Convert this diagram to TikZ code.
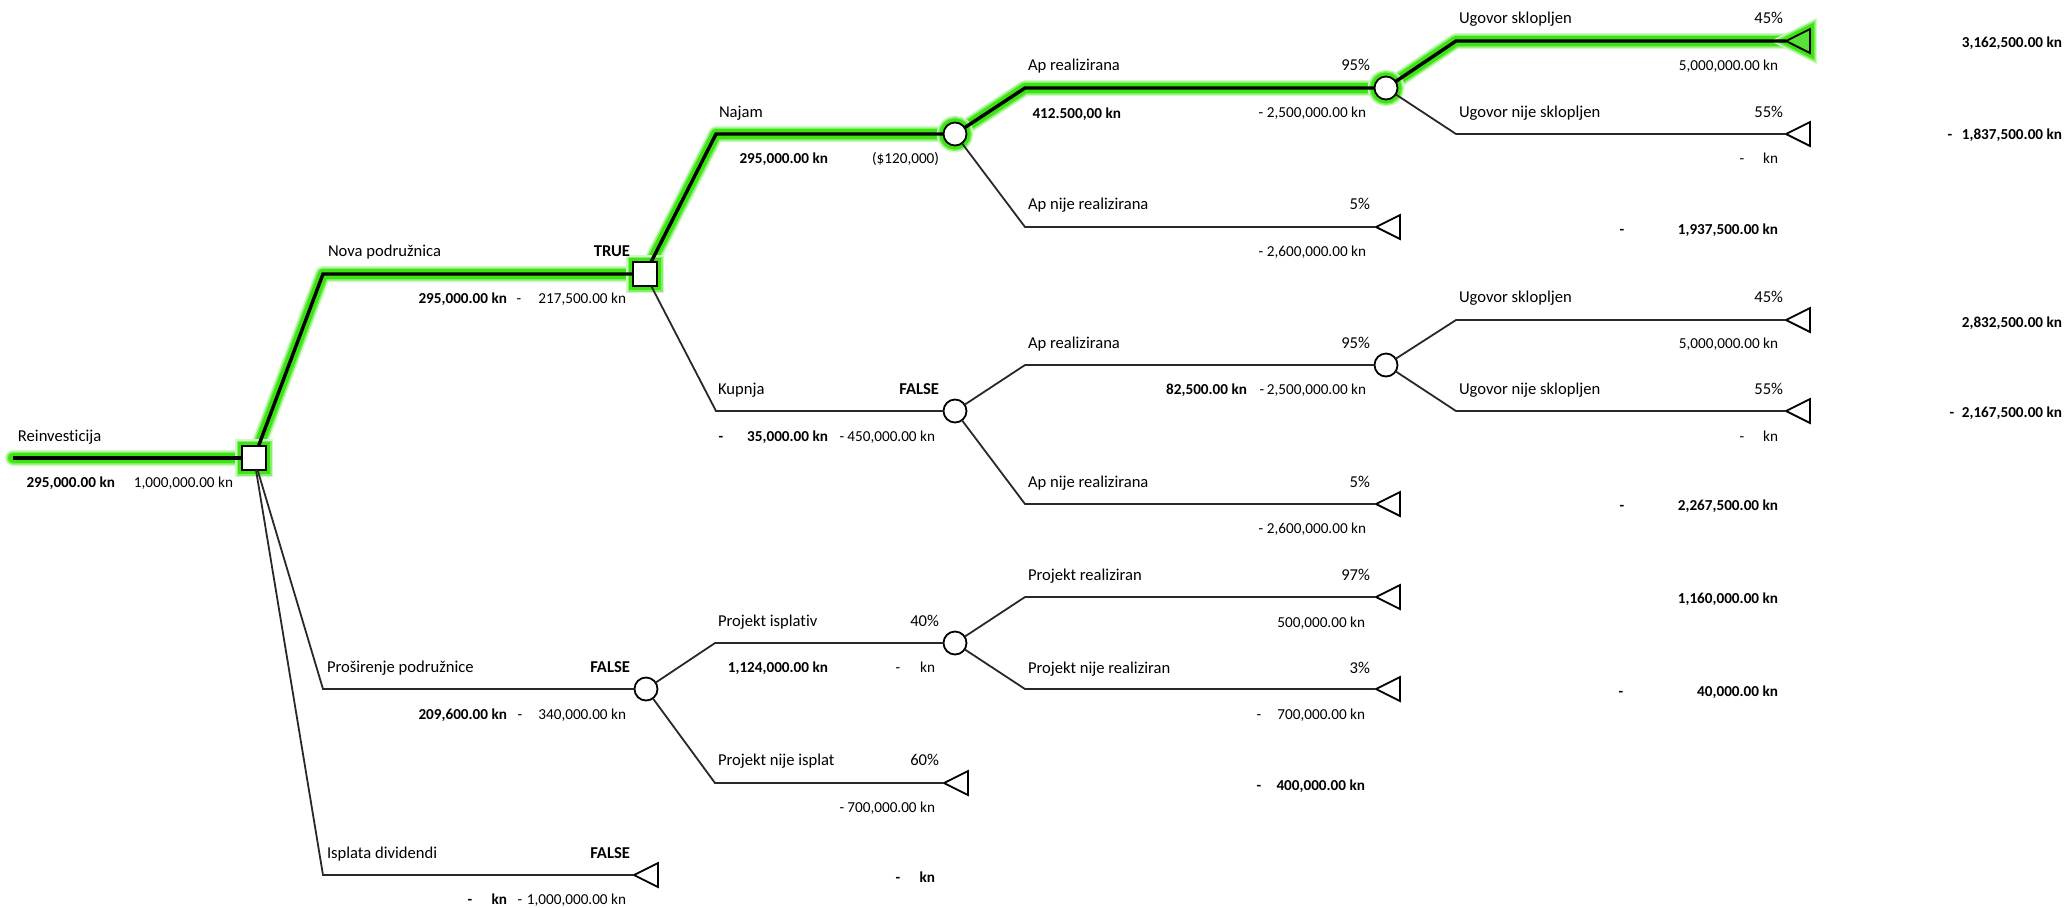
\documentclass[tikz,border=0pt]{standalone}
\usepackage{fontspec}
\setmainfont[Ligatures=NoCommon]{Carlito}
\usetikzlibrary{shapes.geometric}
\pgfdeclarelayer{bg}
\pgfsetlayers{bg,main}
\definecolor{glowA}{RGB}{205,250,195}
\definecolor{glowB}{RGB}{135,238,105}
\definecolor{glowC}{RGB}{60,228,20}
\definecolor{tfill}{RGB}{90,225,55}
\definecolor{lncol}{RGB}{40,40,40}
\begin{document}
\begin{tikzpicture}[x=0.5pt,y=-0.5pt,
  every node/.style={inner sep=0pt,outer sep=0pt},
  ln/.style={line width=0.9pt, lncol},
  hl/.style={line width=1.7pt, black},
  sq/.style={draw, line width=0.9pt, fill=white, rectangle, minimum size=12pt},
  ch/.style={draw, line width=0.9pt, fill=white, circle, minimum size=11.5pt},
  tm/.style={draw, line width=0.9pt, fill=white, isosceles triangle, isosceles triangle stretches, shape border rotate=180, minimum width=12pt, minimum height=12pt, anchor=apex},
  glw/.style={preaction={draw=glowA,line width=7pt},preaction={draw=glowB,line width=5.5pt},preaction={draw=glowC,line width=4pt}},
  lab/.style={anchor=base west, font=\fontsize{8.3}{10}\selectfont},
  pct/.style={anchor=base east, font=\fontsize{8.3}{10}\selectfont},
  flag/.style={anchor=base east, font=\fontsize{8.3}{10}\selectfont\bfseries},
  num/.style={anchor=base east, font=\fontsize{7.6}{9}\selectfont},
  bnum/.style={anchor=base east, font=\fontsize{7.6}{9}\selectfont\bfseries},
  dsh/.style={anchor=base, font=\fontsize{7.6}{9}\selectfont},
  bdsh/.style={anchor=base, font=\fontsize{7.6}{9}\selectfont\bfseries},
]
\useasboundingbox (0,0) rectangle (2065,907);

% ---------- nodes ----------
\coordinate (s0) at (13,458);
\node[sq,glw] (d1) at (254,458) {};
\coordinate (eNova) at (323,274);
\node[sq,glw] (d2) at (645,274) {};
\coordinate (eNajam) at (716,134);
\node[ch,glw] (c1) at (955,134) {};
\coordinate (eApr1) at (1025,88);
\node[ch,glw] (c2) at (1386,88) {};
\coordinate (eUg1) at (1456,41);
\node[tm,glw,fill=tfill] (t1) at (1786,41) {};
\coordinate (eUgn1) at (1456,134);
\node[tm] (t2) at (1786,134) {};
\coordinate (eApn1) at (1025,227);
\node[tm] (t3) at (1376,227) {};
\coordinate (eKup) at (716,411);
\node[ch] (c3) at (955,411) {};
\coordinate (eApr2) at (1025,365);
\node[ch] (c4) at (1386,365) {};
\coordinate (eUg2) at (1456,320);
\node[tm] (t4) at (1786,320) {};
\coordinate (eUgn2) at (1456,411);
\node[tm] (t5) at (1786,411) {};
\coordinate (eApn2) at (1025,504);
\node[tm] (t6) at (1376,504) {};
\coordinate (ePros) at (323,689);
\node[ch] (c5) at (646,689) {};
\coordinate (ePi) at (715,643);
\node[ch] (c6) at (955,643) {};
\coordinate (ePr) at (1025,597);
\node[tm] (t7) at (1376,597) {};
\coordinate (ePnr) at (1025,689);
\node[tm] (t8) at (1376,689) {};
\coordinate (ePni) at (715,783);
\node[tm] (t9) at (944,783) {};
\coordinate (eIsp) at (323,875);
\node[tm] (t10) at (634,875) {};

% ---------- glow of the chosen path ----------
\begin{pgfonlayer}{bg}
\foreach \gc/\gw in {glowA/8pt,glowB/6.5pt,glowC/5pt}{
  \draw[\gc, line width=\gw, line cap=round, line join=round]
    (s0) -- (d1.center) -- (eNova) -- (d2.center) -- (eNajam) -- (c1.center)
    -- (eApr1) -- (c2.center) -- (eUg1) -- (t1.apex);
}
\end{pgfonlayer}

% ---------- connectors ----------
\draw[hl] (s0) -- (d1);
\draw[hl] (d1) -- (eNova) -- (d2);
\draw[hl] (d2) -- (eNajam) -- (c1);
\draw[hl] (c1) -- (eApr1) -- (c2);
\draw[hl] (c2) -- (eUg1) -- (t1.apex);
\draw[ln] (c2) -- (eUgn1) -- (t2.apex);
\draw[ln] (c1) -- (eApn1) -- (t3.apex);
\draw[ln] (d2) -- (eKup) -- (c3);
\draw[ln] (c3) -- (eApr2) -- (c4);
\draw[ln] (c4) -- (eUg2) -- (t4.apex);
\draw[ln] (c4) -- (eUgn2) -- (t5.apex);
\draw[ln] (c3) -- (eApn2) -- (t6.apex);
\draw[ln] (d1) -- (ePros) -- (c5);
\draw[ln] (c5) -- (ePi) -- (c6);
\draw[ln] (c6) -- (ePr) -- (t7.apex);
\draw[ln] (c6) -- (ePnr) -- (t8.apex);
\draw[ln] (c5) -- (ePni) -- (t9.apex);
\draw[ln] (d1) -- (eIsp) -- (t10.apex);

% ---------- texts ----------
\node[lab] (tRein) at (18,441) {Reinvesticija};
\node[bnum] (vRein) at (115,487) {295,000.00 kn};
\node[num] (cRein) at (233,487) {1,000,000.00 kn};

\node[lab] (tNova) at (328,256) {Nova podružnica};
\node[flag] (bNova) at (630,256) {TRUE};
\node[bnum] (vNova) at (507,303) {295,000.00 kn};
\node[dsh] (mNova) at (519,303) {-};
\node[num] (cNova) at (626,303) {217,500.00 kn};

\node[lab] (tNajam) at (719,117) {Najam};
\node[bnum] (vNajam) at (828,163) {295,000.00 kn};
\node[num] (cNajam) at (939,163) {(\$120,000)};

\node[lab] (tApr1) at (1028,70) {Ap realizirana};
\node[pct] (pApr1) at (1370,70) {95\%};
\node[bnum] (vApr1) at (1121,118) {412.500,00 kn};
\node[dsh] (mApr1) at (1261,117) {-};
\node[num] (cApr1) at (1366,117) {2,500,000.00 kn};

\node[lab] (tApn1) at (1028,209) {Ap nije realizirana};
\node[pct] (pApn1) at (1370,209) {5\%};
\node[dsh] (mApn1) at (1261,256) {-};
\node[num] (cApn1) at (1366,256) {2,600,000.00 kn};
\node[bdsh] (mT3) at (1622,234) {-};
\node[bnum] (vT3) at (1778,234) {1,937,500.00 kn};

\node[lab] (tUg1) at (1459,23) {Ugovor sklopljen};
\node[pct] (pUg1) at (1783,23) {45\%};
\node[num] (cUg1) at (1778,70) {5,000,000.00 kn};
\node[bnum] (vT1) at (2062,47) {3,162,500.00 kn};

\node[lab] (tUgn1) at (1459,117) {Ugovor nije sklopljen};
\node[pct] (pUgn1) at (1783,117) {55\%};
\node[dsh] (mUgn1) at (1742,163) {-};
\node[num] (cUgn1) at (1778,163) {kn};
\node[bdsh] (mT2) at (1950,139) {-};
\node[bnum] (vT2) at (2062,139) {1,837,500.00 kn};

\node[lab] (tKup) at (718,394) {Kupnja};
\node[flag] (bKup) at (939,394) {FALSE};
\node[bdsh] (m1Kup) at (721,441) {-};
\node[bnum] (vKup) at (828,441) {35,000.00 kn};
\node[dsh] (m2Kup) at (842,441) {-};
\node[num] (cKup) at (935,441) {450,000.00 kn};

\node[lab] (tApr2) at (1028,348) {Ap realizirana};
\node[pct] (pApr2) at (1370,348) {95\%};
\node[bnum] (vApr2) at (1247,394) {82,500.00 kn};
\node[dsh] (mApr2) at (1262,394) {-};
\node[num] (cApr2) at (1366,394) {2,500,000.00 kn};

\node[lab] (tApn2) at (1028,487) {Ap nije realizirana};
\node[pct] (pApn2) at (1370,487) {5\%};
\node[dsh] (mApn2) at (1261,533) {-};
\node[num] (cApn2) at (1366,533) {2,600,000.00 kn};
\node[bdsh] (mT6) at (1622,510) {-};
\node[bnum] (vT6) at (1778,510) {2,267,500.00 kn};

\node[lab] (tUg2) at (1459,302) {Ugovor sklopljen};
\node[pct] (pUg2) at (1783,302) {45\%};
\node[num] (cUg2) at (1778,348) {5,000,000.00 kn};
\node[bnum] (vT4) at (2062,327) {2,832,500.00 kn};

\node[lab] (tUgn2) at (1459,394) {Ugovor nije sklopljen};
\node[pct] (pUgn2) at (1783,394) {55\%};
\node[dsh] (mUgn2) at (1742,441) {-};
\node[num] (cUgn2) at (1778,441) {kn};
\node[bdsh] (mT5) at (1952,417) {-};
\node[bnum] (vT5) at (2062,417) {2,167,500.00 kn};

\node[lab] (tPros) at (327,672) {Proširenje podružnice};
\node[flag] (bPros) at (630,672) {FALSE};
\node[bnum] (vPros) at (507,719) {209,600.00 kn};
\node[dsh] (mPros) at (520,719) {-};
\node[num] (cPros) at (626,719) {340,000.00 kn};

\node[lab] (tPi) at (718,626) {Projekt isplativ};
\node[pct] (pPi) at (939,626) {40\%};
\node[bnum] (vPi) at (828,672) {1,124,000.00 kn};
\node[dsh] (mPi) at (898,672) {-};
\node[num] (cPi) at (935,672) {kn};

\node[lab] (tPni) at (718,765) {Projekt nije isplat};
\node[pct] (pPni) at (939,765) {60\%};
\node[dsh] (mPni) at (842,812) {-};
\node[num] (cPni) at (935,812) {700,000.00 kn};
\node[bdsh] (mT9) at (1259,790) {-};
\node[bnum] (vT9) at (1365,790) {400,000.00 kn};

\node[lab] (tPr) at (1028,580) {Projekt realiziran};
\node[pct] (pPr) at (1370,580) {97\%};
\node[num] (cPr) at (1365,627) {500,000.00 kn};
\node[bnum] (vT7) at (1778,603) {1,160,000.00 kn};

\node[lab] (tPnr) at (1028,673) {Projekt nije realiziran};
\node[pct] (pPnr) at (1370,673) {3\%};
\node[dsh] (mPnr) at (1259,719) {-};
\node[num] (cPnr) at (1365,719) {700,000.00 kn};
\node[bdsh] (mT8) at (1621,696) {-};
\node[bnum] (vT8) at (1778,696) {40,000.00 kn};

\node[lab] (tIsp) at (327,858) {Isplata dividendi};
\node[flag] (bIsp) at (630,858) {FALSE};
\node[bdsh] (m1Isp) at (470,904) {-};
\node[bnum] (vIsp) at (507,904) {kn};
\node[dsh] (m2Isp) at (520,904) {-};
\node[num] (cIsp) at (626,904) {1,000,000.00 kn};
\node[bdsh] (mT10) at (898,882) {-};
\node[bnum] (vT10) at (935,882) {kn};
\end{tikzpicture}
\end{document}
